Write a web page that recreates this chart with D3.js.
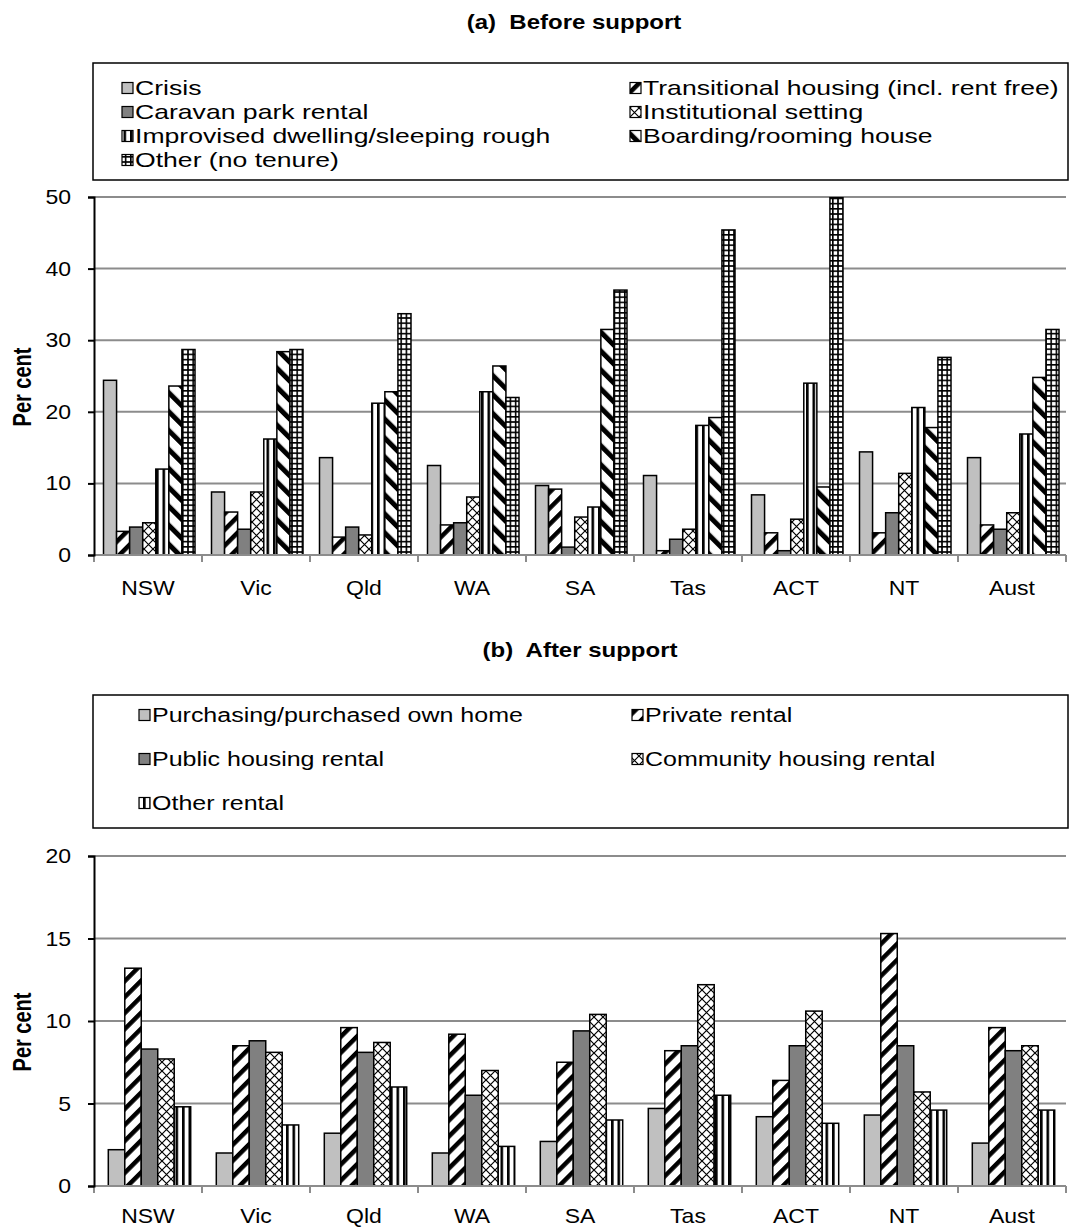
<!DOCTYPE html>
<html>
<head>
<meta charset="utf-8">
<script src="https://cdn.jsdelivr.net/npm/d3@7"></script>
<style>
  html, body { margin: 0; padding: 0; background: #fff; }
  svg { display: block; font-family: "Liberation Sans", Arial, sans-serif; }
</style>
</head>
<body>
<svg id="chart" width="1071" height="1227"></svg>
<script>
// ---------- DATA ----------
const categories = ["NSW", "Vic", "Qld", "WA", "SA", "Tas", "ACT", "NT", "Aust"];

const beforeSeries = [
  "Crisis",
  "Transitional housing (incl. rent free)",
  "Caravan park rental",
  "Institutional setting",
  "Improvised dwelling/sleeping rough",
  "Boarding/rooming house",
  "Other (no tenure)"
];
const crisis        = [24.4, 8.8, 13.6, 12.5, 9.7, 11.1, 8.4, 14.4, 13.6];
const transitional  = [3.3, 6.0, 2.5, 4.2, 9.2, 0.6, 3.1, 3.1, 4.2];
const caravan       = [3.9, 3.6, 3.9, 4.5, 1.1, 2.2, 0.6, 5.9, 3.6];
const institutional = [4.5, 8.8, 2.8, 8.1, 5.3, 3.6, 5.0, 11.4, 5.9];
const improvised    = [12.0, 16.2, 21.2, 22.8, 6.7, 18.1, 24.0, 20.6, 16.9];
const boarding      = [23.6, 28.4, 22.8, 26.4, 31.5, 19.2, 9.5, 17.8, 24.8];
const otherNoTenure = [28.7, 28.7, 33.7, 22.0, 37.0, 45.4, 49.9, 27.6, 31.5];
const beforeValues  = [crisis, transitional, caravan, institutional, improvised, boarding, otherNoTenure];
const beforeTicks   = [0, 10, 20, 30, 40, 50];

const afterSeries = [
  "Purchasing/purchased own home",
  "Private rental",
  "Public housing rental",
  "Community housing rental",
  "Other rental"
];
const purchasing   = [2.2, 2.0, 3.2, 2.0, 2.7, 4.7, 4.2, 4.3, 2.6];
const privateRent  = [13.2, 8.5, 9.6, 9.2, 7.5, 8.2, 6.4, 15.3, 9.6];
const publicRent   = [8.3, 8.8, 8.1, 5.5, 9.4, 8.5, 8.5, 8.5, 8.2];
const communityRent= [7.7, 8.1, 8.7, 7.0, 10.4, 12.2, 10.6, 5.7, 8.5];
const otherRental  = [4.8, 3.7, 6.0, 2.4, 4.0, 5.5, 3.8, 4.6, 4.6];
const afterValues  = [purchasing, privateRent, publicRent, communityRent, otherRental];
const afterTicks   = [0, 5, 10, 15, 20];

// ---------- SETUP ----------
const svg = d3.select("#chart");
const defs = svg.append("defs");

function stext(parent, x, y, str, o = {}) {
  const sx = o.sx || 1.2;
  return parent.append("text")
    .attr("transform", `translate(${x},${y}) scale(${sx},1)` + (o.rotate ? ` rotate(${o.rotate})` : ""))
    .attr("font-size", o.size || 20)
    .attr("font-weight", o.weight || "normal")
    .attr("text-anchor", o.anchor || "start")
    .attr("dy", o.dy || 0)
    .attr("fill", "#000")
    .attr("xml:space", "preserve")
    .text(str);
}

// ---------- PATTERNS ----------
function stripePattern(id, size, stripeW, angle) {
  const p = defs.append("pattern").attr("id", id)
    .attr("patternUnits", "userSpaceOnUse")
    .attr("width", size).attr("height", size)
    .attr("patternTransform", `rotate(${angle})`);
  p.append("rect").attr("width", size).attr("height", size).attr("fill", "#fff");
  p.append("rect").attr("width", stripeW).attr("height", size).attr("fill", "#000");
}
stripePattern("pUp", 11.3, 4.5, 45);      // "/" wide upward diagonal
stripePattern("pDown", 13.4, 5, -45);     // "\" wide downward diagonal

(function () { // vertical stripes
  const p = defs.append("pattern").attr("id", "pVert")
    .attr("patternUnits", "userSpaceOnUse").attr("width", 6.5).attr("height", 10);
  p.append("rect").attr("width", 6.5).attr("height", 10).attr("fill", "#fff");
  p.append("rect").attr("x", 0).attr("width", 2.6).attr("height", 10).attr("fill", "#000");
})();
(function () { // crosshatch
  const s = 9;
  const p = defs.append("pattern").attr("id", "pCross")
    .attr("patternUnits", "userSpaceOnUse").attr("width", s).attr("height", s);
  p.append("rect").attr("width", s).attr("height", s).attr("fill", "#fff");
  p.append("path").attr("d", `M0,0L${s},${s}M${s},0L0,${s}`)
    .attr("stroke", "#000").attr("stroke-width", 1.2);
})();
(function () { // small grid
  const s = 5.2;
  const p = defs.append("pattern").attr("id", "pGrid")
    .attr("patternUnits", "userSpaceOnUse").attr("width", s).attr("height", s);
  p.append("rect").attr("width", s).attr("height", s).attr("fill", "#fff");
  p.append("rect").attr("width", s).attr("height", 1.6).attr("fill", "#000");
  p.append("rect").attr("width", 1.6).attr("height", s).attr("fill", "#000");
})();

const beforeFills = ["#c0c0c0", "url(#pUp)", "#808080", "url(#pCross)", "url(#pVert)", "url(#pDown)", "url(#pGrid)"];
const afterFills  = ["#c0c0c0", "url(#pUp)", "#808080", "url(#pCross)", "url(#pVert)"];

// ---------- PANEL ----------
function panel(opt) {
  const g = svg.append("g");
  const x = d3.scaleBand().domain(categories).range([opt.left, opt.right]).padding(0);
  const xi = d3.scaleBand().domain(opt.series).range(opt.inner).padding(0);
  const y = d3.scaleLinear().domain([0, d3.max(opt.ticks)]).range([opt.bottom, opt.top]);

  // title
  stext(g, opt.titleX, opt.titleY, opt.title, { size: 20, weight: "bold", anchor: "middle", sx: 1.2 });

  // gridlines
  g.append("g").selectAll("line").data(opt.ticks.filter(t => t > 0)).join("line")
    .attr("x1", opt.left).attr("x2", opt.right)
    .attr("y1", d => y(d)).attr("y2", d => y(d))
    .attr("stroke", "#8c8c8c").attr("stroke-width", 2);

  // bars
  const groups = g.append("g").selectAll("g").data(opt.series).join("g");
  groups.each(function (s, si) {
    d3.select(this).selectAll("rect").data(opt.values[si]).join("rect")
      .attr("x", (d, i) => x(categories[i]) + xi(s))
      .attr("width", xi.bandwidth())
      .attr("y", d => y(d))
      .attr("height", d => y(0) - y(d))
      .attr("fill", opt.fills[si])
      .attr("stroke", "#000").attr("stroke-width", 1.5);
  });

  // x axis
  const xAxis = g.append("g");
  xAxis.append("line").attr("x1", opt.left).attr("x2", opt.right)
    .attr("y1", y(0)).attr("y2", y(0)).attr("stroke", "#8c8c8c").attr("stroke-width", 2);
  const bounds = categories.map(c => x(c)).concat([opt.right]);
  xAxis.selectAll("line.tk").data(bounds).join("line").attr("class", "tk")
    .attr("x1", d => d).attr("x2", d => d)
    .attr("y1", y(0)).attr("y2", y(0) + 7)
    .attr("stroke", "#8c8c8c").attr("stroke-width", 2);
  categories.forEach(c => {
    stext(xAxis, x(c) + x.bandwidth() / 2, opt.catY, c, { size: 20, anchor: "middle", sx: 1.15 });
  });

  // y axis (line + ticks via d3 axis, labels drawn stretched)
  const yAxis = d3.axisLeft(y).tickValues(opt.ticks).tickSize(6).tickFormat("");
  const ya = g.append("g").attr("transform", `translate(${opt.left},0)`).call(yAxis);
  ya.select(".domain").attr("stroke", "#000").attr("stroke-width", 2);
  ya.selectAll(".tick line").attr("stroke", "#000").attr("stroke-width", 2);
  opt.ticks.forEach(t => {
    stext(g, 71, y(t), String(t), { size: 20, anchor: "end", dy: "0.35em", sx: 1.15 });
  });

  // y label
  stext(g, opt.ylabX, opt.ylabY, "Per cent", { size: 20, weight: "bold", anchor: "middle", rotate: -90, sx: 1.25 });

  // legend
  const L = opt.legend;
  g.append("rect").attr("x", L.x).attr("y", L.y).attr("width", L.w).attr("height", L.h)
    .attr("fill", "#fff").attr("stroke", "#000").attr("stroke-width", 1.5);
  opt.series.forEach((s, i) => {
    const col = i % 2, row = Math.floor(i / 2);
    const sx = L.cols[col], cy = L.rows[row];
    g.append("rect").attr("x", sx).attr("y", cy - 5.5).attr("width", 11).attr("height", 11)
      .attr("fill", opt.fills[i]).attr("stroke", "#000").attr("stroke-width", 1.2);
    stext(g, sx + 13, cy, s, { size: 20, dy: "0.35em", sx: L.sx });
  });
}

panel({
  title: "(a)  Before support", titleX: 574, titleY: 29,
  series: beforeSeries, values: beforeValues, fills: beforeFills, ticks: beforeTicks,
  left: 94, right: 1066, top: 197, bottom: 555, inner: [9.5, 101],
  catY: 595, ylabX: 31, ylabY: 387,
  legend: { x: 93, y: 63, w: 975, h: 117, cols: [122, 630], rows: [88, 112, 136, 160], sx: 1.33 }
});

panel({
  title: "(b)  After support", titleX: 580, titleY: 657,
  series: afterSeries, values: afterValues, fills: afterFills, ticks: afterTicks,
  left: 94, right: 1066, top: 856, bottom: 1186, inner: [14.3, 96.7],
  catY: 1223, ylabX: 31, ylabY: 1032,
  legend: { x: 93, y: 695, w: 975, h: 133, cols: [139, 632], rows: [715, 759, 803], sx: 1.25 }
});
</script>
</body>
</html>
